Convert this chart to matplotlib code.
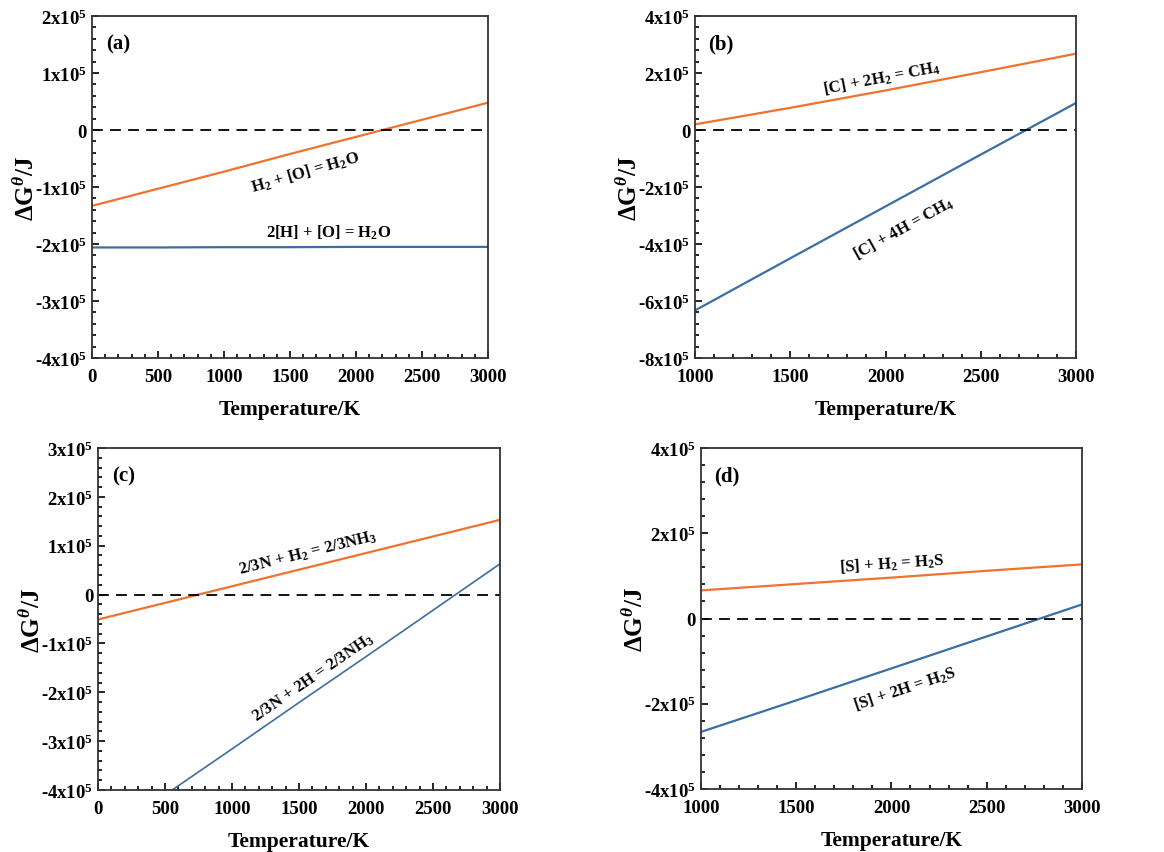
import matplotlib
matplotlib.use("Agg")
import matplotlib.pyplot as plt
from matplotlib.ticker import MultipleLocator, AutoMinorLocator, FuncFormatter

plt.rcParams['font.family'] = ['Liberation Serif', 'DejaVu Serif']
plt.rcParams['font.weight'] = 'bold'
plt.rcParams['mathtext.fontset'] = 'custom'
plt.rcParams['mathtext.rm'] = 'Liberation Serif:bold'
plt.rcParams['mathtext.bf'] = 'Liberation Serif:bold'
plt.rcParams['mathtext.it'] = 'Liberation Serif:italic:bold'

ORANGE = '#f0722f'
BLUE = '#3b6ea2'

# (a) H2O
T_a = [0, 500, 1000, 1500, 2000, 2500, 3000]
a_h2 = [-1.33e5, -1.03e5, -0.73e5, -0.42e5, -0.12e5, 0.18e5, 0.48e5]
a_h = [-2.06e5, -2.06e5, -2.055e5, -2.055e5, -2.05e5, -2.05e5, -2.05e5]

# (b) CH4
T_b = [1000, 1500, 2000, 2500, 3000]
b_h2 = [0.2e5, 0.78e5, 1.39e5, 2.03e5, 2.68e5]
b_h = [-6.33e5, -4.5e5, -2.68e5, -0.86e5, 0.95e5]

# (c) NH3
T_c = [0, 500, 1000, 1500, 2000, 2500, 3000]
c_h2 = [-0.51e5, -0.17e5, 0.17e5, 0.51e5, 0.85e5, 1.19e5, 1.53e5]
T_c2 = [500, 1000, 1500, 2000, 2500, 3000]
c_h = [-4.1e5, -3.16e5, -2.21e5, -1.27e5, -0.32e5, 0.63e5]

# (d) H2S
T_d = [1000, 1500, 2000, 2500, 3000]
d_h2 = [0.66e5, 0.81e5, 0.96e5, 1.12e5, 1.27e5]
d_h = [-2.66e5, -1.92e5, -1.17e5, -0.42e5, 0.33e5]


def sci(v, pos):
    if abs(v) < 1:
        return '0'
    m = v / 1e5
    return '%dx10$^{5}$' % round(m)


def style(ax, xlim, xmaj, ylim, ymaj, tag):
    ax.set_xlim(*xlim)
    ax.set_ylim(*ylim)
    ax.xaxis.set_major_locator(MultipleLocator(xmaj))
    ax.xaxis.set_minor_locator(AutoMinorLocator(5))
    ax.yaxis.set_major_locator(MultipleLocator(ymaj))
    ax.yaxis.set_minor_locator(AutoMinorLocator(5))
    ax.yaxis.set_major_formatter(FuncFormatter(sci))
    ax.tick_params(which='both', direction='in', top=False, right=False,
                   labelsize=13.5, width=1.2)
    ax.tick_params(which='major', length=5)
    ax.tick_params(which='minor', length=3)
    ax.tick_params(axis='x', pad=7)
    for s in ax.spines.values():
        s.set_linewidth(1.3)
        s.set_color('#333333')
    ax.axhline(0, color='black', lw=1.3, linestyle=(0, (6, 4)))
    ax.set_xlabel('Temperature/K', fontsize=15.5, fontweight='bold', labelpad=10)
    ax.set_ylabel('ΔG$^{\\theta}$/J', fontsize=18, fontweight='bold', labelpad=-2)
    ax.text(0.035, 0.92, tag, transform=ax.transAxes, fontsize=15,
            fontweight='bold', va='center')


fig = plt.figure(figsize=(11.64, 8.53), dpi=100)
ax1 = fig.add_axes([0.0790, 0.5791, 0.3402, 0.4009])
ax2 = fig.add_axes([0.5971, 0.5791, 0.3273, 0.4009])
ax3 = fig.add_axes([0.0842, 0.0727, 0.3454, 0.4009])
ax4 = fig.add_axes([0.6022, 0.0738, 0.3273, 0.3998])

# (a)
ax1.plot(T_a, a_h2, color=ORANGE, lw=1.6)
ax1.plot(T_a, a_h, color=BLUE, lw=1.6)
style(ax1, (0, 3000), 500, (-4e5, 2e5), 1e5, '(a)')
ax1.text(1616, -0.73e5, 'H$_2$ + [O] = H$_2$O', rotation=16, ha='center',
         va='center', fontsize=12)
ax1.text(1793, -1.78e5, '2[H] + [O] = H$_2$O', ha='center', va='center',
         fontsize=12)

# (b)
ax2.plot(T_b, b_h2, color=ORANGE, lw=1.6)
ax2.plot(T_b, b_h, color=BLUE, lw=1.6)
style(ax2, (1000, 3000), 500, (-8e5, 4e5), 2e5, '(b)')
ax2.text(1981, 1.85e5, '[C] + 2H$_2$ = CH$_4$', rotation=11, ha='center',
         va='center', fontsize=12)
ax2.text(2095, -3.42e5, '[C] + 4H = CH$_4$', rotation=29, ha='center',
         va='center', fontsize=12)

# (c)
ax3.plot(T_c, c_h2, color=ORANGE, lw=1.6)
ax3.plot(T_c2, c_h, color=BLUE, lw=1.2)
style(ax3, (0, 3000), 500, (-4e5, 3e5), 1e5, '(c)')
ax3.text(1568, 0.87e5, '2/3N + H$_2$ = 2/3NH$_3$', rotation=14, ha='center',
         va='center', fontsize=12)
ax3.text(1606, -1.68e5, '2/3N + 2H = 2/3NH$_3$', rotation=34.5, ha='center',
         va='center', fontsize=12)

# (d)
ax4.plot(T_d, d_h2, color=ORANGE, lw=1.6)
ax4.plot(T_d, d_h, color=BLUE, lw=1.6)
style(ax4, (1000, 3000), 500, (-4e5, 4e5), 2e5, '(d)')
ax4.text(2002, 1.3e5, '[S] + H$_2$ = H$_2$S', rotation=4, ha='center',
         va='center', fontsize=12)
ax4.text(2072, -1.63e5, '[S] + 2H = H$_2$S', rotation=18.5, ha='center',
         va='center', fontsize=12)

fig.savefig('out.png', dpi=100)
